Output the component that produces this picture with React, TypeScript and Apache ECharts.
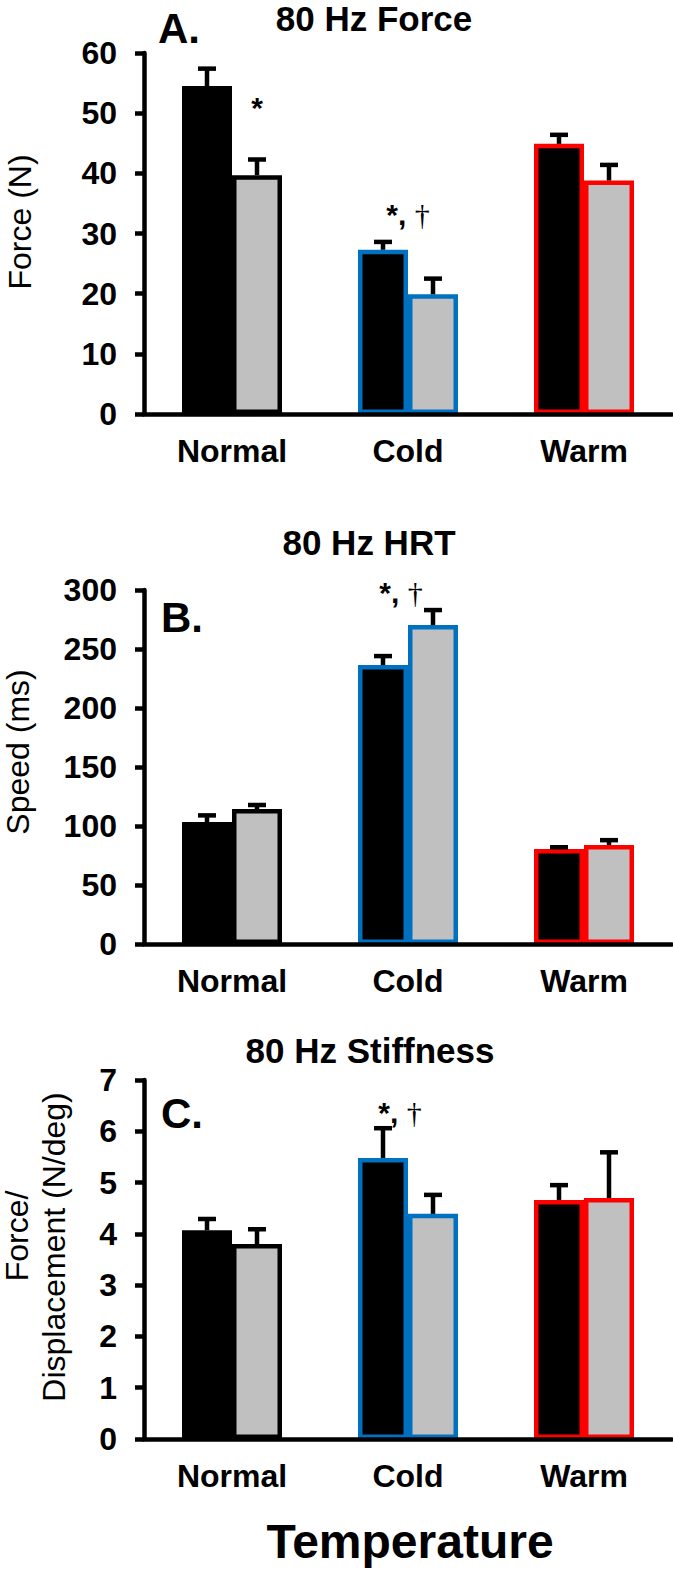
import React, { useEffect, useRef } from "react";
import * as echarts from "echarts";

// ---------- DATA ----------
const categories = ["Normal", "Cold", "Warm"];
const borderColors = ["#000000", "#0070C0", "#FF0000"];

// Panel A: 80 Hz Force (N)
const forceBlack = [54.5, 27.3, 44.9];
const forceBlackErr = [2.9, 1.3, 1.5];
const forceGray = [39.7, 19.9, 38.8];
const forceGrayErr = [2.6, 2.6, 2.6];

// Panel B: 80 Hz HRT (ms)
const hrtBlack = [103.4, 236.4, 80.5];
const hrtBlackErr = [5.6, 7.6, 1.5];
const hrtGray = [114.4, 270.3, 83.9];
const hrtGrayErr = [3.4, 12.7, 4.1];

// Panel C: 80 Hz Stiffness (N/deg)
const stiffBlack = [4.07, 5.48, 4.66];
const stiffBlackErr = [0.22, 0.58, 0.29];
const stiffGray = [3.8, 4.39, 4.7];
const stiffGrayErr = [0.29, 0.37, 0.89];

// axis ranges
const axisMax = [60, 300, 7];
const axisInterval = [10, 50, 1];

// significance annotations: [category index, y value, text]
const annotA = [
  { cat: 0, y: 51.0, dx: 25, text: "*" },
  { cat: 1, y: 33.1, dx: 0, text: "*, †" },
];
const annotB = [{ cat: 1, y: 297.5, dx: -7, text: "*, †" }];
const annotC = [{ cat: 1, y: 6.37, dx: -8, text: "*, †" }];

const titles = ["80 Hz Force", "80 Hz HRT", "80 Hz Stiffness"];
const panelLetters = ["A.", "B.", "C."];

// ---------- STYLE ----------
const FONT = "'Liberation Sans', Arial, Helvetica, sans-serif";
const SERIF = "'Liberation Serif', 'Times New Roman', serif";
const BAR_W = 50;
const LINE_W = 4.5;

const grids = [
  { top: 53, height: 361 },
  { top: 590, height: 354 },
  { top: 1080, height: 359 },
];

function errRender(offset: number) {
  return (params: any, api: any) => {
    const i = api.value(0);
    const v = api.value(1);
    const e = api.value(2);
    const p0 = api.coord([i, v]);
    const p1 = api.coord([i, v + e]);
    const x = p0[0] + offset;
    return {
      type: "group",
      children: [
        {
          type: "line",
          shape: { x1: x, y1: p0[1], x2: x, y2: p1[1] },
          style: { stroke: "#000", lineWidth: LINE_W },
        },
        {
          type: "line",
          shape: { x1: x - 9, y1: p1[1], x2: x + 9, y2: p1[1] },
          style: { stroke: "#000", lineWidth: LINE_W },
        },
      ],
    };
  };
}

function annotRender(list: any[]) {
  return (params: any, api: any) => {
    const a = list[params.dataIndex];
    const p = api.coord([a.cat, a.y]);
    const parts = a.text.split("†");
    let txt = "{s|" + parts[0] + "}";
    if (parts.length > 1) txt += "{d|†}";
    return {
      type: "text",
      x: p[0] + a.dx,
      y: p[1],
      style: {
        text: txt,
        align: "center",
        verticalAlign: "middle",
        fill: "#000",
        rich: {
          s: { fontFamily: FONT, fontWeight: "bold", fontSize: 30, fill: "#000" },
          d: { fontFamily: SERIF, fontWeight: "normal", fontSize: 30, fill: "#000" },
        },
      },
    };
  };
}

export default function App() {
  const ref = useRef<HTMLDivElement>(null);

  useEffect(() => {
    if (!ref.current) return;
    const chart = echarts.init(ref.current, undefined, { renderer: "svg" });

    const blacks = [forceBlack, hrtBlack, stiffBlack];
    const blackErrs = [forceBlackErr, hrtBlackErr, stiffBlackErr];
    const grays = [forceGray, hrtGray, stiffGray];
    const grayErrs = [forceGrayErr, hrtGrayErr, stiffGrayErr];
    const annots = [annotA, annotB, annotC];

    const series: any[] = [];
    for (let k = 0; k < 3; k++) {
      series.push({
        type: "bar",
        name: "Black",
        xAxisIndex: k,
        yAxisIndex: k,
        barWidth: BAR_W,
        barGap: "0%",
        z: 2,
        data: blacks[k].map((v, i) => ({
          value: v,
          itemStyle: { color: "#000000", borderColor: borderColors[i], borderWidth: LINE_W },
        })),
      });
      series.push({
        type: "bar",
        name: "Gray",
        xAxisIndex: k,
        yAxisIndex: k,
        barWidth: BAR_W,
        barGap: "0%",
        z: 2,
        data: grays[k].map((v, i) => ({
          value: v,
          itemStyle: { color: "#C0C0C0", borderColor: borderColors[i], borderWidth: LINE_W },
        })),
      });
      series.push({
        type: "custom",
        xAxisIndex: k,
        yAxisIndex: k,
        z: 4,
        renderItem: errRender(-BAR_W / 2),
        encode: { x: 0, y: 1 },
        data: blacks[k].map((v, i) => [i, v, blackErrs[k][i]]),
      });
      series.push({
        type: "custom",
        xAxisIndex: k,
        yAxisIndex: k,
        z: 4,
        renderItem: errRender(BAR_W / 2),
        encode: { x: 0, y: 1 },
        data: grays[k].map((v, i) => [i, v, grayErrs[k][i]]),
      });
      series.push({
        type: "custom",
        xAxisIndex: k,
        yAxisIndex: k,
        z: 5,
        renderItem: annotRender(annots[k]),
        encode: { x: 0, y: 1 },
        data: annots[k].map((a) => [a.cat, a.y]),
      });
    }

    const option: any = {
      animation: false,
      backgroundColor: "#ffffff",
      grid: grids.map((g) => ({ left: 144, right: 1, top: g.top, height: g.height })),
      xAxis: grids.map((g, k) => ({
        type: "category",
        gridIndex: k,
        data: categories,
        z: 10,
        axisLine: { lineStyle: { color: "#000", width: LINE_W } },
        axisTick: { show: false },
        axisLabel: {
          color: "#000",
          fontFamily: FONT,
          fontWeight: "bold",
          fontSize: 32,
          margin: 21,
        },
      })),
      yAxis: grids.map((g, k) => ({
        type: "value",
        gridIndex: k,
        min: 0,
        max: axisMax[k],
        interval: axisInterval[k],
        z: 10,
        splitLine: { show: false },
        axisLine: { show: true, lineStyle: { color: "#000", width: LINE_W } },
        axisTick: { show: true, length: 9, lineStyle: { color: "#000", width: LINE_W } },
        axisLabel: {
          color: "#000",
          fontFamily: FONT,
          fontWeight: "bold",
          fontSize: 32,
          margin: 27,
        },
      })),
      graphic: [
        // titles
        { type: "text", x: 374, y: 18, style: { text: titles[0], font: `bold 35px ${FONT}`, fill: "#000", align: "center", verticalAlign: "middle" } },
        { type: "text", x: 369, y: 542, style: { text: titles[1], font: `bold 35px ${FONT}`, fill: "#000", align: "center", verticalAlign: "middle" } },
        { type: "text", x: 370, y: 1050, style: { text: titles[2], font: `bold 35px ${FONT}`, fill: "#000", align: "center", verticalAlign: "middle" } },
        // panel letters
        { type: "text", x: 158, y: 28, style: { text: panelLetters[0], font: `bold 42px ${FONT}`, fill: "#000", align: "left", verticalAlign: "middle" } },
        { type: "text", x: 161, y: 617, style: { text: panelLetters[1], font: `bold 42px ${FONT}`, fill: "#000", align: "left", verticalAlign: "middle" } },
        { type: "text", x: 161, y: 1113, style: { text: panelLetters[2], font: `bold 42px ${FONT}`, fill: "#000", align: "left", verticalAlign: "middle" } },
        // y axis names
        { type: "text", x: 20, y: 222, rotation: Math.PI / 2, style: { text: "Force (N)", font: `32px ${FONT}`, fill: "#000", align: "center", verticalAlign: "middle" } },
        { type: "text", x: 18, y: 752, rotation: Math.PI / 2, style: { text: "Speed (ms)", font: `32px ${FONT}`, fill: "#000", align: "center", verticalAlign: "middle" } },
        { type: "text", x: 17, y: 1236, rotation: Math.PI / 2, style: { text: "Force/", font: `32px ${FONT}`, fill: "#000", align: "center", verticalAlign: "middle" } },
        { type: "text", x: 54, y: 1247, rotation: Math.PI / 2, style: { text: "Displacement (N/deg)", font: `32px ${FONT}`, fill: "#000", align: "center", verticalAlign: "middle" } },
        // x axis name
        { type: "text", x: 410, y: 1541, style: { text: "Temperature", font: `bold 48px ${FONT}`, fill: "#000", align: "center", verticalAlign: "middle" } },
      ],
      series,
    };

    chart.setOption(option);
    return () => chart.dispose();
  }, []);

  return (
    <div
      ref={ref}
      style={{ position: "absolute", left: 0, top: 0, width: 673, height: 1569, background: "#fff" }}
    />
  );
}
